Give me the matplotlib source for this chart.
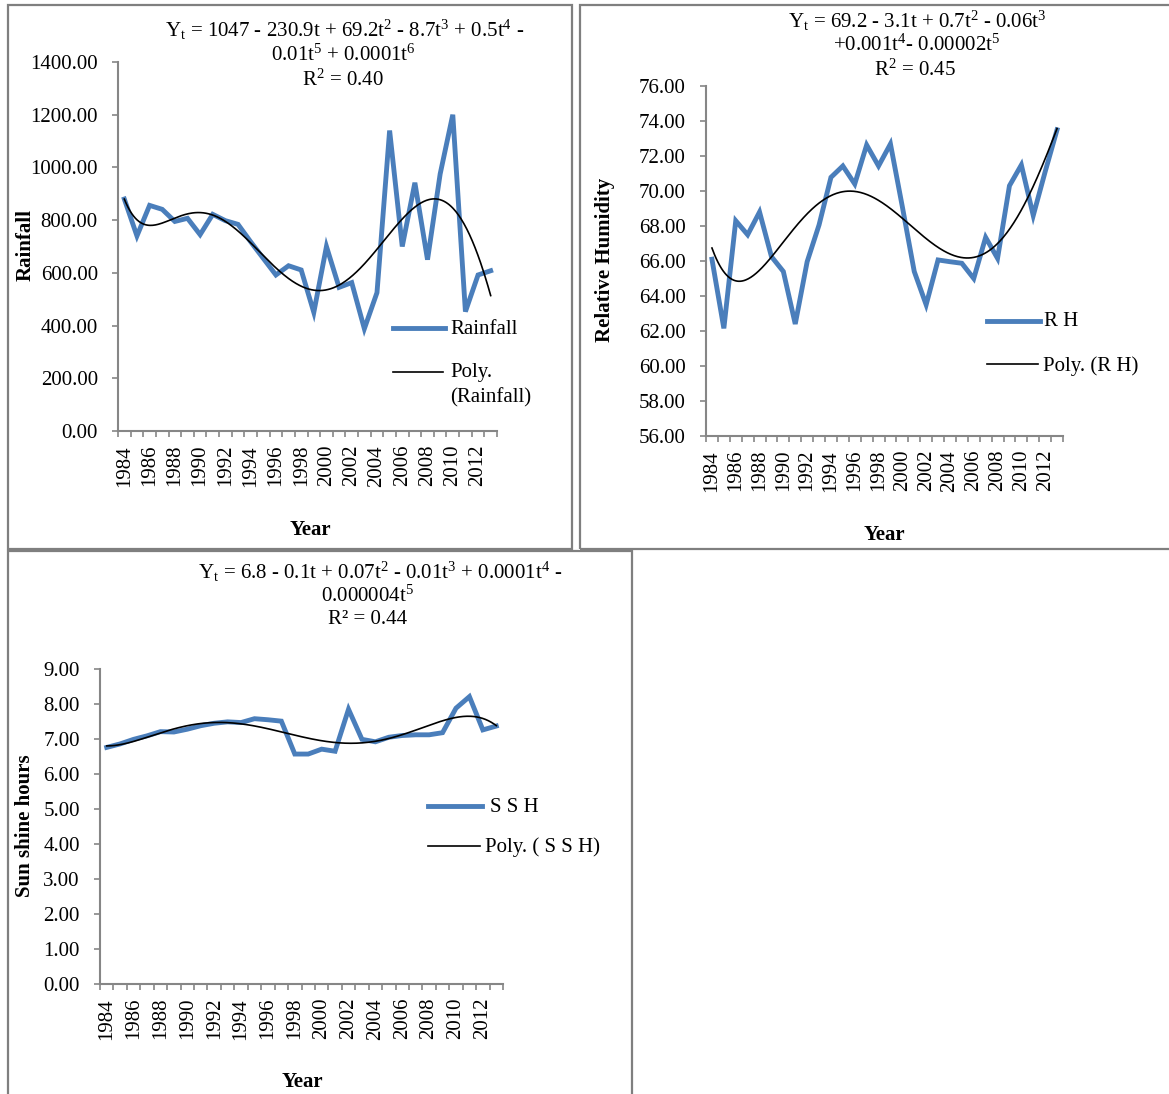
import numpy as np
import matplotlib
matplotlib.use("Agg")
import matplotlib.pyplot as plt
from matplotlib.lines import Line2D
from matplotlib.patches import Rectangle

plt.rcParams['font.family'] = ['Liberation Serif', 'DejaVu Serif']
plt.rcParams['mathtext.fontset'] = 'custom'
plt.rcParams['mathtext.rm'] = 'Liberation Serif'
plt.rcParams['mathtext.it'] = 'Liberation Serif:italic'

# ---------------- data ----------------
years = list(range(1984, 2014))
rainfall = [880, 740, 856, 841, 795, 807, 745, 822, 798, 784, 718, 655, 592, 627, 611,
            450, 700, 545, 563, 388, 525, 1140, 700, 942, 650, 975, 1200, 453, 592, 608]
rh = [66.1, 62.15, 68.3, 67.5, 68.8, 66.25, 65.4, 62.4, 65.96, 68.06, 70.78, 71.43, 70.4,
      72.63, 71.43, 72.69, 69.1, 65.4, 63.5, 66.06, 65.96, 65.87, 65.0, 67.35, 66.15,
      70.3, 71.49, 68.6, 71.1, 73.5]
ssh = [6.76, 6.86, 6.99, 7.09, 7.21, 7.2, 7.28, 7.38, 7.45, 7.49, 7.47, 7.58, 7.55, 7.51,
       6.57, 6.57, 6.71, 6.65, 7.85, 6.99, 6.92, 7.05, 7.1, 7.12, 7.12, 7.18, 7.88, 8.21,
       7.26, 7.37]

W, H = 1169, 1094
fig = plt.figure(figsize=(W / 100, H / 100), dpi=100)

BLUE = '#4A7EBB'
GRAY = '#868686'
FS = 15


def px_axes(l, t, r, b):
    return fig.add_axes([l / W, 1 - b / H, (r - l) / W, (b - t) / H])


def fx(x):
    return x / W


def fy(y):
    return 1 - y / H


def style_axes(ax, ylim, yticks):
    n = len(years)
    ax.set_xlim(-0.5, n - 0.5)
    ax.set_ylim(*ylim)
    for s in ['top', 'right']:
        ax.spines[s].set_visible(False)
    for s in ['left', 'bottom']:
        ax.spines[s].set_color(GRAY)
        ax.spines[s].set_linewidth(1.5)
    ax.set_yticks(yticks)
    ax.set_yticklabels([f"{v:.2f}" for v in yticks], fontsize=FS)
    ax.set_xticks(range(0, n, 2))
    ax.set_xticklabels([str(y) for y in years[::2]], rotation=90, fontsize=FS)
    ax.set_xticks(np.arange(-0.5, n, 1.0), minor=True)
    ax.tick_params(axis='x', which='major', length=0, pad=10)
    ax.tick_params(axis='x', which='minor', length=4, color=GRAY, width=1.2, direction='out')
    ax.tick_params(axis='y', which='major', length=4.5, color=GRAY, width=1.2, pad=10)


def plot_series(ax, vals, deg):
    n = len(vals)
    x = np.arange(n)
    ax.plot(x, vals, color=BLUE, lw=3.5, solid_joinstyle='miter', zorder=2)
    t = np.arange(1, n + 1)
    coef = np.polyfit(t, vals, deg)
    td = np.linspace(1, n, 400)
    ax.plot(td - 1, np.polyval(coef, td), color='black', lw=1.2, zorder=3)


# borders
for (l, t, r, b) in [(8, 5, 572, 549), (580, 5, 1172, 549), (8, 551, 632, 1100)]:
    fig.add_artist(Rectangle((fx(l), fy(b)), (r - l) / W, (b - t) / H,
                             transform=fig.transFigure, fill=False,
                             edgecolor='#7f7f7f', lw=1.6))

# ---- panel 1: rainfall ----
ax1 = px_axes(118, 62, 497, 431)
plot_series(ax1, rainfall, 6)
style_axes(ax1, (0, 1400), np.arange(0, 1401, 200))
fig.text(fx(26), fy(245), 'Rainfall', rotation=90, fontsize=FS, fontweight='bold',
         ha='center', va='center')
fig.text(fx(310), fy(530), 'Year', fontsize=FS, fontweight='bold', ha='center', va='center')
fig.text(fx(345), fy(30), r'$\mathregular{Y_t}$ = 1047 - 230.9t + 69.2t$^{\mathregular{2}}$ - 8.7t$^{\mathregular{3}}$ + 0.5t$^{\mathregular{4}}$ -',
         fontsize=FS, ha='center', va='center')
fig.text(fx(343), fy(55), r'0.01t$^{\mathregular{5}}$ + 0.0001t$^{\mathregular{6}}$',
         fontsize=FS, ha='center', va='center')
fig.text(fx(343), fy(80), r'R$^{\mathregular{2}}$ = 0.40', fontsize=FS, ha='center', va='center')
fig.add_artist(Line2D([fx(393), fx(445)], [fy(328), fy(328)], color=BLUE, lw=3.5))
fig.add_artist(Line2D([fx(393), fx(443)], [fy(372), fy(372)], color='black', lw=1.2))
fig.text(fx(450), fy(329), 'Rainfall', fontsize=FS, va='center', ha='left')
fig.text(fx(450), fy(373), 'Poly.', fontsize=FS, va='center', ha='left')
fig.text(fx(450), fy(398), '(Rainfall)', fontsize=FS, va='center', ha='left')

# ---- panel 2: RH ----
ax2 = px_axes(706, 86, 1063, 436)
plot_series(ax2, rh, 5)
style_axes(ax2, (56, 76), np.arange(56, 76.1, 2))
fig.text(fx(605), fy(260), 'Relative Humidity', rotation=90, fontsize=FS, fontweight='bold',
         ha='center', va='center')
fig.text(fx(884), fy(535), 'Year', fontsize=FS, fontweight='bold', ha='center', va='center')
fig.text(fx(917), fy(21), r'$\mathregular{Y_t}$ = 69.2 - 3.1t + 0.7t$^{\mathregular{2}}$ - 0.06t$^{\mathregular{3}}$',
         fontsize=FS, ha='center', va='center')
fig.text(fx(917), fy(45), r'+0.001t$^{\mathregular{4}}$- 0.00002t$^{\mathregular{5}}$',
         fontsize=FS, ha='center', va='center')
fig.text(fx(915), fy(70), r'R$^{\mathregular{2}}$ = 0.45', fontsize=FS, ha='center', va='center')
fig.add_artist(Line2D([fx(987), fx(1040)], [fy(321), fy(321)], color=BLUE, lw=3.5))
fig.add_artist(Line2D([fx(987), fx(1038)], [fy(364), fy(364)], color='black', lw=1.2))
fig.text(fx(1044), fy(322), 'R H', fontsize=FS, va='center', ha='left')
fig.text(fx(1043), fy(366), 'Poly. (R H)', fontsize=FS, va='center', ha='left')

# ---- panel 3: SSH ----
ax3 = px_axes(100, 669, 503, 984)
plot_series(ax3, ssh, 5)
style_axes(ax3, (0, 9), np.arange(0, 9.01, 1))
fig.text(fx(25), fy(826), 'Sun shine hours', rotation=90, fontsize=FS, fontweight='bold',
         ha='center', va='center')
fig.text(fx(302), fy(1082), 'Year', fontsize=FS, fontweight='bold', ha='center', va='center')
fig.text(fx(380), fy(572), r'$\mathregular{Y_t}$ = 6.8 - 0.1t + 0.07t$^{\mathregular{2}}$ - 0.01t$^{\mathregular{3}}$ + 0.0001t$^{\mathregular{4}}$ -',
         fontsize=FS, ha='center', va='center')
fig.text(fx(368), fy(596), r'0.000004t$^{\mathregular{5}}$', fontsize=FS, ha='center', va='center')
fig.text(fx(368), fy(620), 'R² = 0.44', fontsize=FS, ha='center', va='center')
fig.add_artist(Line2D([fx(428), fx(482)], [fy(806), fy(806)], color=BLUE, lw=3.5))
fig.add_artist(Line2D([fx(428), fx(480)], [fy(846), fy(846)], color='black', lw=1.2))
fig.text(fx(490), fy(807), 'S S H', fontsize=FS, va='center', ha='left')
fig.text(fx(485), fy(847), 'Poly. ( S S H)', fontsize=FS, va='center', ha='left')

fig.savefig('out.png', dpi=100)
